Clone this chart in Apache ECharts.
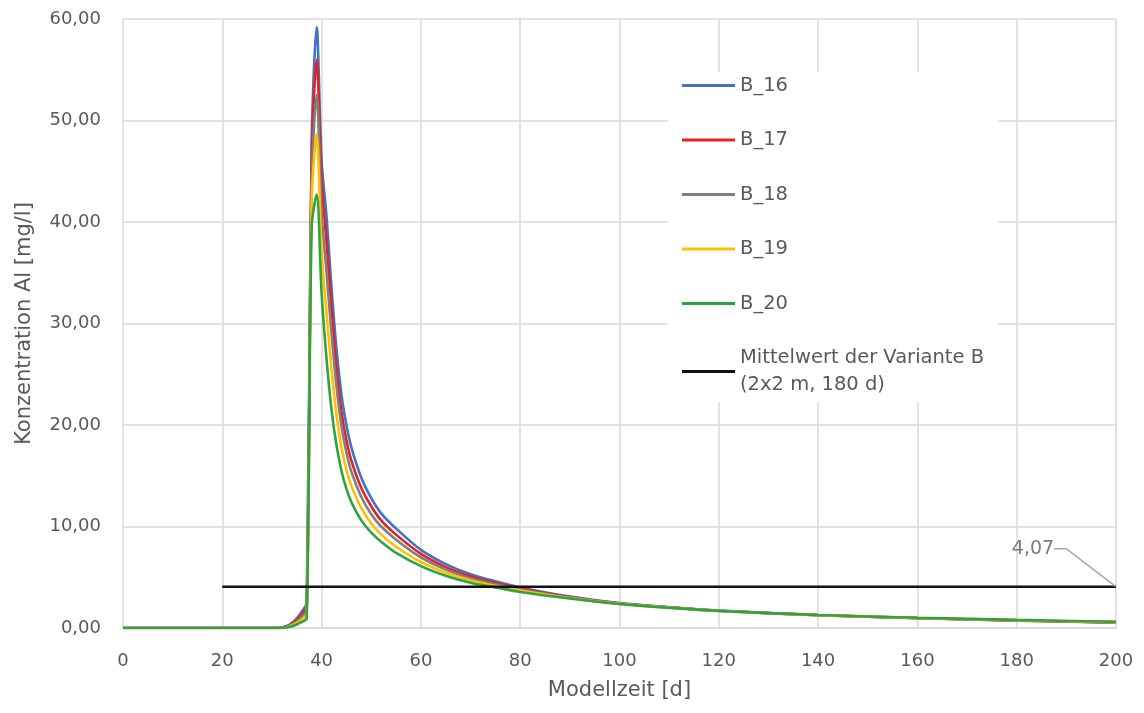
<!DOCTYPE html>
<html>
<head>
<meta charset="utf-8">
<script src="https://cdn.jsdelivr.net/npm/echarts@6/dist/echarts.min.js"></script>
<style>
  html, body { margin: 0; padding: 0; background: #ffffff; }
  #chart { width: 1144px; height: 713px; }
</style>
</head>
<body>
<div id="chart"></div>
<script>
// Modellzeit [d]
const days = [0, 30, 31, 32, 33, 34, 35, 36, 37, 38, 39, 40, 41, 42, 43, 44, 45, 46, 48, 50,
              52, 55, 60, 65, 70, 75, 80, 90, 100, 110, 120, 140, 160, 180, 200];

// Konzentration Al [mg/l] per Variante
const b16 = [0, 0, 0, 0.05, 0.2, 0.5, 0.95, 1.6, 2.5, 48, 59.2, 46, 40.5, 33.5, 27.5, 23, 20, 17.8, 14.8, 12.8,
             11.3, 9.8, 7.7, 6.3, 5.3, 4.6, 4.0, 3.1, 2.45, 2.05, 1.72, 1.28, 0.98, 0.75, 0.55];
const b17 = [0, 0, 0, 0.04, 0.15, 0.4, 0.8, 1.35, 2.1, 46, 56.0, 44, 38, 31.5, 25.5, 21.3, 18.5, 16.5, 13.8, 12.0,
             10.6, 9.2, 7.3, 6.0, 5.1, 4.45, 3.9, 3.05, 2.42, 2.03, 1.7, 1.27, 0.97, 0.73, 0.52];
const b18 = [0, 0, 0, 0.03, 0.12, 0.32, 0.65, 1.1, 1.75, 44, 52.5, 41, 35, 29, 23.8, 19.9, 17.3, 15.4, 12.9, 11.2,
             10.0, 8.7, 6.95, 5.75, 4.9, 4.3, 3.8, 3.0, 2.4, 2.02, 1.7, 1.27, 0.98, 0.75, 0.55];
const b19 = [0, 0, 0, 0.02, 0.1, 0.25, 0.5, 0.85, 1.35, 42, 48.7, 37, 31, 25.5, 21, 17.8, 15.6, 14.0, 11.8, 10.3,
             9.2, 8.0, 6.5, 5.45, 4.7, 4.15, 3.7, 2.95, 2.38, 2.0, 1.68, 1.27, 0.99, 0.77, 0.58];
const b20 = [0, 0, 0, 0.02, 0.08, 0.18, 0.35, 0.6, 0.95, 39.5, 42.7, 33, 26.5, 21.5, 18, 15.5, 13.7, 12.4, 10.6, 9.4,
             8.5, 7.4, 6.1, 5.15, 4.45, 4.0, 3.55, 2.9, 2.36, 1.99, 1.68, 1.28, 1.01, 0.8, 0.62];

// Mittelwert der Variante B and the period it covers
const meanValue = 4.07;
const meanRange = [20, 200];

const seriesNames = ['B_16', 'B_17', 'B_18', 'B_19', 'B_20'];
const seriesValues = [b16, b17, b18, b19, b20];
const seriesColors = ['#4472C4', '#E32222', '#7F7F7F', '#FFC000', '#2EA343'];
const meanName = 'Mittelwert der Variante B\n(2x2 m, 180 d)';

const FONT = '"DejaVu Sans", "Open Sans", sans-serif';
const TEXT = '#595959';
const GRID = '#D9D9D9';

const fmt = (v, d) => v.toFixed(d).replace('.', ',');

const lineSeries = seriesNames.map((name, i) => ({
  name: name,
  type: 'line',
  data: days.map((d, j) => [d, seriesValues[i][j]]),
  smooth: 0.3,
  showSymbol: false,
  symbol: 'none',
  lineStyle: { width: 2.6, color: seriesColors[i] },
  itemStyle: { color: seriesColors[i] },
  z: 2 + i
}));

const chart = echarts.init(document.getElementById('chart'), null, { renderer: 'canvas' });

chart.setOption({
  animation: false,
  backgroundColor: '#ffffff',
  textStyle: { fontFamily: FONT },
  grid: { left: 123, right: 28, top: 19, bottom: 85, containLabel: false },
  xAxis: {
    type: 'value',
    min: 0, max: 200, interval: 20,
    name: 'Modellzeit [d]',
    nameLocation: 'middle',
    nameGap: 52,
    nameTextStyle: { color: TEXT, fontSize: 21, fontFamily: FONT },
    axisLine: { show: true, lineStyle: { color: GRID, width: 1.5 } },
    axisTick: { show: false },
    axisLabel: { color: TEXT, fontSize: 18, margin: 24, fontFamily: FONT },
    splitLine: { show: true, lineStyle: { color: GRID, width: 1.5 } }
  },
  yAxis: {
    type: 'value',
    min: 0, max: 60, interval: 10,
    name: 'Konzentration Al [mg/l]',
    nameLocation: 'middle',
    nameGap: 88,
    nameTextStyle: { color: TEXT, fontSize: 21, fontFamily: FONT },
    axisLine: { show: false },
    axisTick: { show: false },
    axisLabel: { color: TEXT, fontSize: 18, margin: 22, fontFamily: FONT, formatter: v => fmt(v, 2) },
    splitLine: { show: true, lineStyle: { color: GRID, width: 1.5 } }
  },
  legend: {
    orient: 'vertical',
    left: 668,
    top: 72,
    padding: [0, 14, 4, 14],
    backgroundColor: '#ffffff',
    icon: 'rect',
    itemWidth: 53,
    itemHeight: 3,
    itemGap: 27.5,
    textStyle: { color: TEXT, fontSize: 19.5, lineHeight: 27, fontFamily: FONT },
    data: seriesNames.concat([meanName])
  },
  series: lineSeries.concat([
    {
      name: meanName,
      type: 'line',
      data: meanRange.map(d => [d, meanValue]),
      showSymbol: false,
      symbol: 'none',
      lineStyle: { width: 2.4, color: '#111111' },
      itemStyle: { color: '#111111' },
      z: 10
    },
    {
      name: 'label-mean',
      type: 'scatter',
      data: [[meanRange[1], meanValue]],
      symbolSize: 1,
      itemStyle: { color: 'rgba(0,0,0,0)' },
      silent: true,
      z: 11,
      label: {
        show: true,
        position: 'inside',
        formatter: () => fmt(meanValue, 2),
        color: TEXT,
        fontSize: 19,
        fontFamily: FONT
      },
      labelLayout: { dx: -83, dy: -38 },
      labelLine: {
        show: true,
        length2: 12,
        minTurnAngle: 0,
        lineStyle: { color: '#A6A6A6', width: 1.5 }
      }
    }
  ])
});
</script>
</body>
</html>
